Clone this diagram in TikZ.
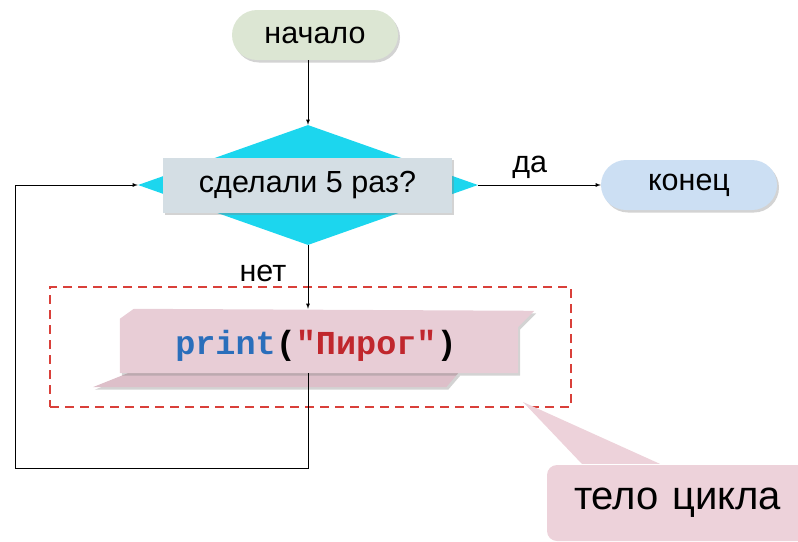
\documentclass[tikz,border=0pt]{standalone}
\usepackage{fontspec}
\setmainfont{Liberation Sans}
\setmonofont{Liberation Mono}
\usetikzlibrary{shapes.geometric,shadows}
\definecolor{startfill}{HTML}{DCE6D3}
\definecolor{stopfill}{HTML}{CCDFF3}
\definecolor{condfill}{HTML}{D4DEE4}
\definecolor{diafill}{HTML}{1CD6EE}
\definecolor{bodyfill}{HTML}{E8CDD6}
\definecolor{bodyback}{HTML}{DDBFC9}
\definecolor{notefill}{HTML}{EDD2DA}
\definecolor{frame}{HTML}{D9403A}
\definecolor{kwblue}{HTML}{2A6EBB}
\definecolor{strred}{HTML}{C0272D}

\tikzset{
  shade/.style={drop shadow={shadow xshift=2pt,shadow yshift=-2.5pt,opacity=0.35}},
  term/.style={rounded corners=25pt,minimum height=50pt,shade},
  flow/.style={-latex,line width=0.8pt},
}

\begin{document}
\begin{tikzpicture}[x=1pt,y=-1pt,font=\fontsize{30.5}{34}\selectfont]
  \useasboundingbox (0,0) rectangle (798,541);
  % flowchart: loop with a fixed number of repetitions
  \node[term,fill=startfill,minimum width=166pt] (start) at (315,35) {начало};
  \node[diamond,fill=diafill,minimum width=340pt,minimum height=120pt,inner sep=0pt] (dia) at (308,185) {};
  \node[fill=condfill,minimum width=289pt,minimum height=55pt,shade] (cond) at (307.5,185) {сделали 5 раз?};
  \node[term,fill=stopfill,minimum width=176pt] (stop) at (689,185) {конец};

  % loop body
  \node[draw=frame,dashed,line width=1.3pt,dash pattern=on 9pt off 6pt,minimum width=521pt,minimum height=120pt] (frm) at (310.5,347) {};
  \node[minimum width=398pt,minimum height=64pt] (body) at (319,341) {};
  \fill[bodyback,shade] ([xshift=-27pt,yshift=-14pt]body.south west) -- ([xshift=8pt]body.south west)
    -- ([xshift=-60pt]body.south east) -- ([xshift=-72pt,yshift=-14pt]body.south east) -- cycle;
  \fill[bodyfill,shade] ([yshift=-10pt]body.north west) -- ([xshift=14pt]body.north west)
    -- ([xshift=16pt,yshift=-2pt]body.north east) -- ([yshift=-18pt]body.north east)
    -- (body.south east) -- (body.south west) -- cycle;
  \node[font=\fontsize{33.5}{37}\selectfont\ttfamily\bfseries] (code) at (316,346)
    {\textcolor{kwblue}{print}(\textcolor{strred}{"Пирог"})};

  % connectors
  \draw[flow] (start.south -| dia.north) -- (dia.north);
  \draw[flow] (dia.east) -- node[above,pos=0.42,yshift=3pt] (yes) {да} (stop.west);
  \draw[flow] (dia.south) -- node[left,pos=0.45,xshift=-18pt] (no) {нет} (dia.south |- body.north);
  \coordinate (lp) at (15,468);
  \draw[flow] (dia.south |- body.south) |- (lp) |- (dia.west);

  % callout
  \coordinate (tip) at (523,402);
  \node[fill=notefill,rounded corners=10pt,minimum width=290pt,minimum height=76pt,
        text width=236pt,font=\fontsize{40}{44}\selectfont,inner xsep=27pt] (note) at (692,503) {тело цикла};
  \fill[notefill] (tip) -- ([xshift=35pt,yshift=1pt]note.north west) -- ([xshift=113pt,yshift=1pt]note.north west) -- cycle;
\end{tikzpicture}
\end{document}
